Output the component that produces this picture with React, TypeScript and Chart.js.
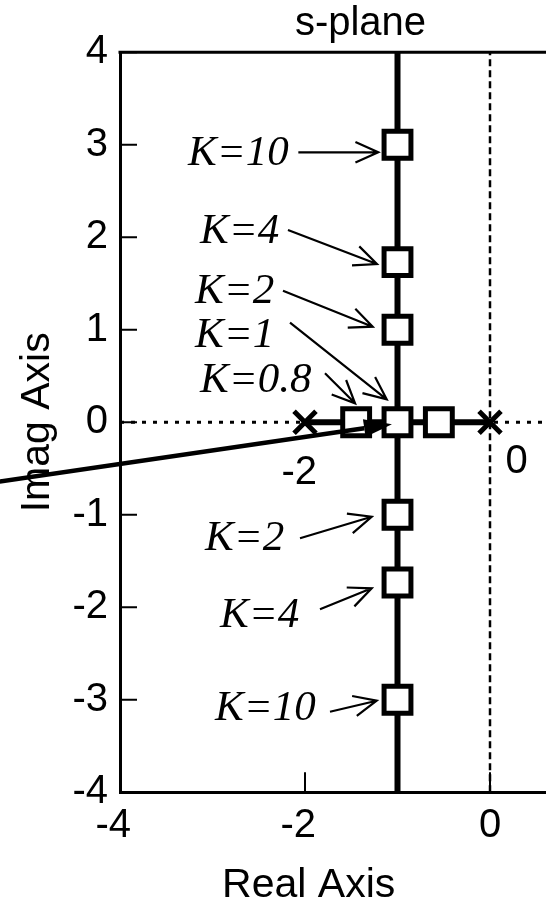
import React, { useEffect, useRef } from 'react';
import { Chart, registerables } from 'chart.js';

Chart.register(...registerables);

// Open-loop poles of G(s) = K / (s (s + 2))
const openLoopRe = [-2, 0];
const openLoopIm = [0, 0];

// Closed-loop poles s = -1 ± sqrt(1 - K) marked on the locus
const markedRe = [-1, -1, -1, -1, -1.447, -0.553, -1, -1, -1];
const markedIm = [3, 1.732, 1, 0, 0, 0, -1, -1.732, -3];

// Locus branches
const verticalBranchRe = [-1, -1];
const verticalBranchIm = [-4, 4];
const realBranchRe = [-2, 0];
const realBranchIm = [0, 0];

// Axes
const xRange = [-4, 1.2];
const yRange = [-4, 4];
const xTicks = [-4, -2, 0];
const yTicks = [-4, -3, -2, -1, 0, 1, 2, 3, 4];

// Gain annotations
const gainTexts = ['K=10', 'K=4', 'K=2', 'K=1', 'K=0.8', 'K=2', 'K=4', 'K=10'];
const poleValueTexts = ['-2', '0'];

// Where each gain annotation sits (axis units): text origin, arrow tail, arrow head
const gainNoteLayout = [
  { at: [-3.265, 2.782], from: [-2.072, 2.919], to: [-1.208, 2.919] },
  { at: [-3.135, 1.938], from: [-2.184, 2.079], to: [-1.222, 1.711] },
  { at: [-3.189, 1.293], from: [-2.238, 1.423], to: [-1.268, 1.034] },
  { at: [-3.189, 0.817], from: [-2.162, 1.077], to: [-1.117, 0.249] },
  { at: [-3.135, 0.331], from: [-1.784, 0.53], to: [-1.459, 0.205] },
  { at: [-3.081, -1.381], from: [-2.054, -1.254], to: [-1.279, -1.021] },
  { at: [-2.919, -2.21], from: [-1.838, -2.022], to: [-1.279, -1.795] },
  { at: [-2.973, -3.218], from: [-1.73, -3.129], to: [-1.225, -3.01] },
];
const poleValueLayout = [
  [-2.063, -0.667],
  [0.289, -0.551],
];
const breakawayArrow = { from: [-5.3, -0.64], to: [-1.06, -0.02] };
const realAxisTitleCenter = -1.96;

const SANS = '"Liberation Sans", Arial, Helvetica, sans-serif';
const SERIF = '"Liberation Serif", "Times New Roman", serif';
const INK = '#000';

const toPoints = (xs: number[], ys: number[]) => xs.map((x, i) => ({ x, y: ys[i] }));

const annotations = {
  id: 'rootLocusAnnotations',
  afterDatasetsDraw(chart: any) {
    const { ctx, chartArea, scales } = chart;
    const px = (v: number) => scales.x.getPixelForValue(v);
    const py = (v: number) => scales.y.getPixelForValue(v);
    ctx.save();
    ctx.strokeStyle = INK;
    ctx.fillStyle = INK;
    ctx.lineCap = 'butt';

    // top and right frame edges
    ctx.lineWidth = 3;
    ctx.beginPath();
    ctx.moveTo(chartArea.left - 1.5, chartArea.top);
    ctx.lineTo(chartArea.right, chartArea.top);
    ctx.lineTo(chartArea.right, chartArea.bottom);
    ctx.stroke();

    // inward tick marks
    ctx.lineWidth = 2;
    ctx.beginPath();
    xTicks.forEach((v) => {
      ctx.moveTo(px(v), chartArea.bottom);
      ctx.lineTo(px(v), chartArea.bottom - 20);
    });
    yTicks.forEach((v) => {
      ctx.moveTo(chartArea.left, py(v));
      ctx.lineTo(chartArea.left + 17, py(v));
    });
    ctx.stroke();

    // gain labels with thin open arrows
    ctx.font = `italic 43px ${SERIF}`;
    ctx.textAlign = 'left';
    ctx.textBaseline = 'alphabetic';
    gainTexts.forEach((text, i) => {
      const note = gainNoteLayout[i];
      ctx.fillText(text, px(note.at[0]), py(note.at[1]));
      const x1 = px(note.from[0]);
      const y1 = py(note.from[1]);
      const x2 = px(note.to[0]);
      const y2 = py(note.to[1]);
      const a = Math.atan2(y2 - y1, x2 - x1);
      const len = 25;
      const spread = 0.42;
      ctx.lineWidth = 2.2;
      ctx.beginPath();
      ctx.moveTo(x1, y1);
      ctx.lineTo(x2, y2);
      ctx.moveTo(x2 - len * Math.cos(a - spread), y2 - len * Math.sin(a - spread));
      ctx.lineTo(x2, y2);
      ctx.lineTo(x2 - len * Math.cos(a + spread), y2 - len * Math.sin(a + spread));
      ctx.stroke();
    });

    // heavy arrow into the breakaway point
    {
      const sx = px(breakawayArrow.from[0]);
      const sy = py(breakawayArrow.from[1]);
      const tx = px(breakawayArrow.to[0]);
      const ty = py(breakawayArrow.to[1]);
      const a = Math.atan2(ty - sy, tx - sx);
      const headLen = 28;
      const half = 9;
      const bx = tx - headLen * Math.cos(a);
      const by = ty - headLen * Math.sin(a);
      ctx.lineWidth = 4.5;
      ctx.beginPath();
      ctx.moveTo(sx, sy);
      ctx.lineTo(bx, by);
      ctx.stroke();
      ctx.beginPath();
      ctx.moveTo(tx, ty);
      ctx.lineTo(bx - half * Math.sin(a), by + half * Math.cos(a));
      ctx.lineTo(bx + half * Math.sin(a), by - half * Math.cos(a));
      ctx.closePath();
      ctx.fill();
    }

    // open-loop pole values
    ctx.font = `40px ${SANS}`;
    ctx.textAlign = 'center';
    poleValueTexts.forEach((text, i) => {
      ctx.fillText(text, px(poleValueLayout[i][0]), py(poleValueLayout[i][1]));
    });

    // real axis title
    ctx.font = `41px ${SANS}`;
    ctx.fillText('Real Axis', px(realAxisTitleCenter), chart.height - 5.3);

    ctx.restore();
  },
};

export default function App() {
  const canvasRef = useRef<HTMLCanvasElement>(null);

  useEffect(() => {
    const canvas = canvasRef.current;
    if (!canvas) return;
    const chart = new Chart(canvas, {
      type: 'scatter',
      data: {
        datasets: [
          {
            label: 'closed-loop poles',
            data: toPoints(markedRe, markedIm),
            pointStyle: 'rect',
            pointRadius: 19,
            pointBorderWidth: 5,
            pointBackgroundColor: '#fff',
            pointBorderColor: INK,
            showLine: false,
            order: 0,
          },
          {
            label: 'open-loop poles',
            data: toPoints(openLoopRe, openLoopIm),
            pointStyle: 'crossRot',
            pointRadius: 15.5,
            pointBorderWidth: 5,
            pointBorderColor: INK,
            showLine: false,
            order: 1,
          },
          {
            label: 'complex branch',
            data: toPoints(verticalBranchRe, verticalBranchIm),
            showLine: true,
            borderColor: INK,
            borderWidth: 6,
            pointRadius: 0,
            order: 2,
          },
          {
            label: 'real branch',
            data: toPoints(realBranchRe, realBranchIm),
            showLine: true,
            borderColor: INK,
            borderWidth: 6,
            pointRadius: 0,
            order: 3,
          },
          {
            label: 'real axis',
            data: toPoints(xRange, [0, 0]),
            showLine: true,
            borderColor: INK,
            borderWidth: 3,
            borderDash: [4, 7],
            pointRadius: 0,
            order: 4,
          },
          {
            label: 'imaginary axis',
            data: toPoints([0, 0], yRange),
            showLine: true,
            borderColor: INK,
            borderWidth: 2.5,
            borderDash: [7, 4],
            pointRadius: 0,
            order: 5,
          },
        ],
      },
      options: {
        responsive: false,
        animation: false,
        devicePixelRatio: 1,
        events: [],
        layout: { padding: 0, autoPadding: false },
        plugins: {
          legend: { display: false },
          tooltip: { enabled: false },
          title: {
            display: true,
            text: 's-plane',
            fullSize: false,
            color: INK,
            font: { family: SANS, size: 40, weight: 'normal' },
            padding: { top: 0, bottom: 4.3 },
          },
        },
        scales: {
          x: {
            type: 'linear',
            position: 'bottom',
            min: xRange[0],
            max: xRange[1],
            afterBuildTicks: (s: any) => {
              s.ticks = xTicks.map((value) => ({ value }));
            },
            afterFit: (s: any) => {
              s.height = 109.7;
            },
            grid: { display: false, drawTicks: false },
            border: { display: true, width: 3, color: INK },
            ticks: {
              color: INK,
              font: { family: SANS, size: 40 },
              padding: 10,
              maxRotation: 0,
              autoSkip: false,
              // digits sit on the tick; the minus sign hangs to the left
              callback: (v: any) => (Number(v) < 0 ? `${v}\u2004` : `${v}`),
            },
          },
          y: {
            type: 'linear',
            position: 'left',
            min: yRange[0],
            max: yRange[1],
            afterBuildTicks: (s: any) => {
              s.ticks = yTicks.map((value) => ({ value }));
            },
            afterFit: (s: any) => {
              s.width = 120;
            },
            grid: { display: false, drawTicks: false },
            border: { display: true, width: 3, color: INK },
            ticks: {
              color: INK,
              font: { family: SANS, size: 40 },
              padding: 12,
              autoSkip: false,
            },
            title: {
              display: true,
              text: 'Imag Axis',
              color: INK,
              font: { family: SANS, size: 41 },
              padding: { top: 13, bottom: 0 },
            },
          },
        },
      },
      plugins: [annotations],
    } as any);
    return () => chart.destroy();
  }, []);

  return (
    <div
      style={{
        position: 'fixed',
        left: 0,
        top: 0,
        width: 546,
        height: 902,
        overflow: 'hidden',
        background: '#fff',
      }}
    >
      <canvas ref={canvasRef} width={601} height={902} style={{ display: 'block', width: 601, height: 902 }} />
    </div>
  );
}
